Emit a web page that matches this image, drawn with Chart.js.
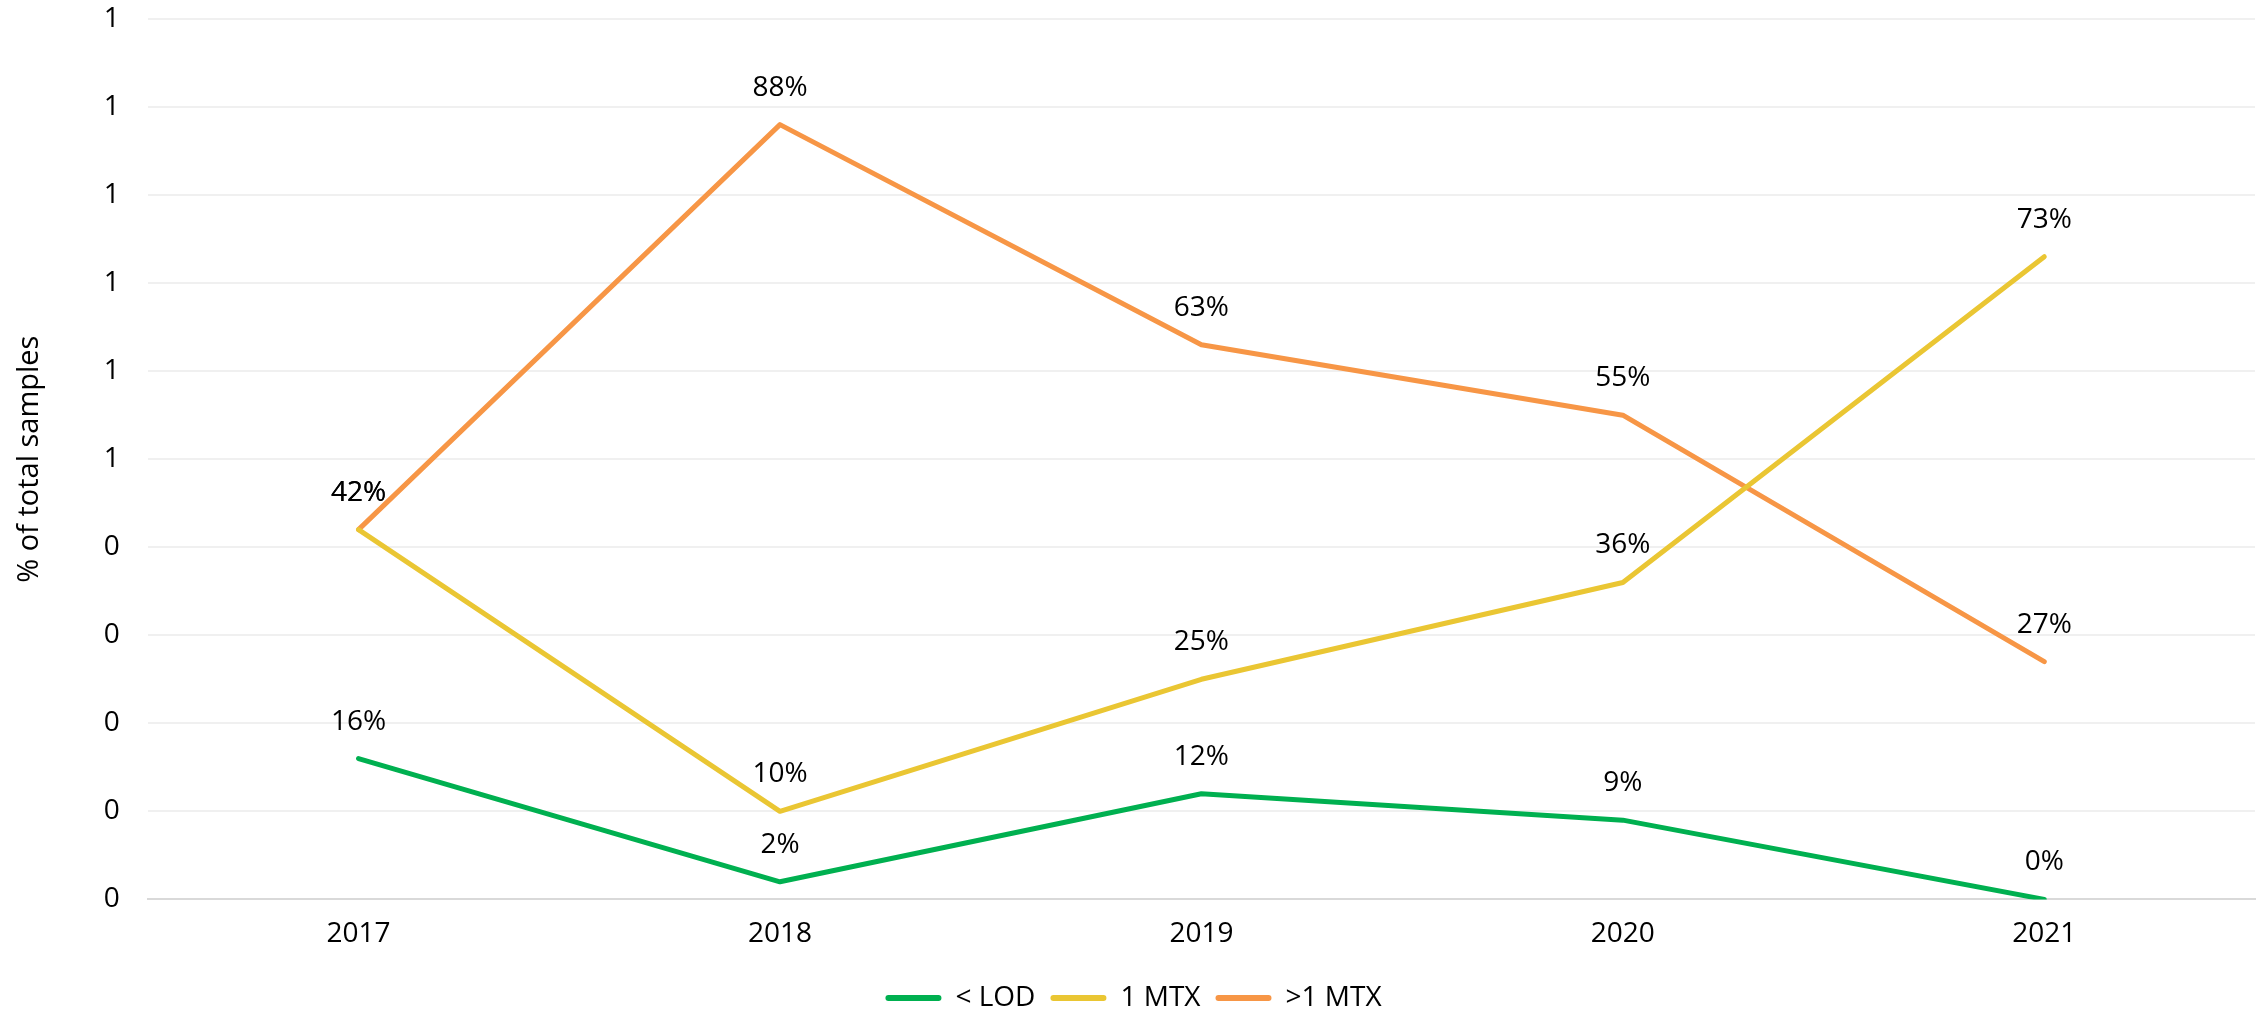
<!DOCTYPE html>
<html>
<head>
<meta charset="utf-8">
<script src="https://cdn.jsdelivr.net/npm/chart.js@4.4.1/dist/chart.umd.min.js"></script>
<style>
    html, body { margin: 0; padding: 0; background: #ffffff; }
    #wrap { width: 2260px; height: 1014px; position: relative; }
</style>
</head>
<body>
<div id="wrap"><canvas id="lineChart"></canvas></div>
<script>
// donnees (part des echantillons, 0..1)
const years = ['2017', '2018', '2019', '2020', '2021'];
const belowLod = [0.16, 0.02, 0.12, 0.09, 0.00];
const oneMtx = [0.42, 0.10, 0.25, 0.36, 0.73];
const moreMtx = [0.42, 0.88, 0.63, 0.55, 0.27];
const seriesNames = ['< LOD', '1 MTX', '>1 MTX'];
const seriesColors = ['#00B050', '#EAC633', '#F79646'];

const FONT = "'Open Sans', 'Liberation Sans', sans-serif";

// etiquettes de donnees au-dessus de chaque point
const pointLabels = {
    id: 'pointLabels',
    afterDatasetsDraw(chart) {
        const ctx = chart.ctx;
        ctx.save();
        ctx.font = '28px ' + FONT;
        ctx.fillStyle = '#000000';
        ctx.textAlign = 'center';
        ctx.textBaseline = 'middle';
        chart.data.datasets.forEach((ds, i) => {
            const meta = chart.getDatasetMeta(i);
            meta.data.forEach((pt, j) => {
                const txt = Math.round(ds.data[j] * 100) + '%';
                ctx.fillText(txt, pt.x, pt.y - 37);
            });
        });
        ctx.restore();
    }
};

function makeDataset(label, values, color) {
    return {
        label: label,
        data: values,
        borderColor: color,
        backgroundColor: color,
        borderWidth: 5,
        pointRadius: 0,
        pointHoverRadius: 0,
        tension: 0,
        borderCapStyle: 'round',
        borderJoinStyle: 'round'
    };
}

let ctx = document.getElementById('lineChart').getContext('2d');
new Chart(ctx, {
    type: 'line',
    data: {
        labels: years,
        datasets: [
            makeDataset(seriesNames[0], belowLod, seriesColors[0]),
            makeDataset(seriesNames[1], oneMtx, seriesColors[1]),
            makeDataset(seriesNames[2], moreMtx, seriesColors[2])
        ]
    },
    options: {
        responsive: true,
        maintainAspectRatio: false,
        animation: false,
        layout: {
            autoPadding: false,
            padding: { left: 12, right: 5, top: 19, bottom: -8 }
        },
        plugins: {
            tooltip: { enabled: false },
            legend: {
                position: 'bottom',
                labels: {
                    font: { family: FONT, size: 28 },
                    color: '#000000',
                    boxWidth: 56,
                    boxHeight: 6,
                    padding: 15,
                    generateLabels(chart) {
                        return chart.data.datasets.map((ds, i) => ({
                            text: ds.label,
                            fillStyle: ds.borderColor,
                            strokeStyle: ds.borderColor,
                            lineWidth: 0,
                            borderRadius: 3,
                            datasetIndex: i
                        }));
                    }
                }
            }
        },
        scales: {
            x: {
                offset: true,
                grid: { display: false, drawTicks: false },
                border: { color: '#d9d9d9', width: 2 },
                ticks: {
                    font: { family: FONT, size: 28 },
                    color: '#000000',
                    padding: 18
                }
            },
            y: {
                min: 0,
                max: 1,
                grid: { color: '#f0f0f0', lineWidth: 2, drawTicks: false },
                border: { display: false },
                // la marge des graduations ne doit pas decaler le haut du graphique
                afterFit(scale) {
                    scale.paddingTop = 0;
                    scale.paddingBottom = 0;
                },
                ticks: {
                    stepSize: 0.1,
                    font: { family: FONT, size: 28 },
                    color: '#000000',
                    padding: 28,
                    callback: v => Math.round(v)
                },
                title: {
                    display: true,
                    text: '% of total samples',
                    font: { family: FONT, size: 29 },
                    color: '#000000',
                    padding: { top: 0, bottom: 29 }
                }
            }
        }
    },
    plugins: [pointLabels]
});
</script>
</body>
</html>
